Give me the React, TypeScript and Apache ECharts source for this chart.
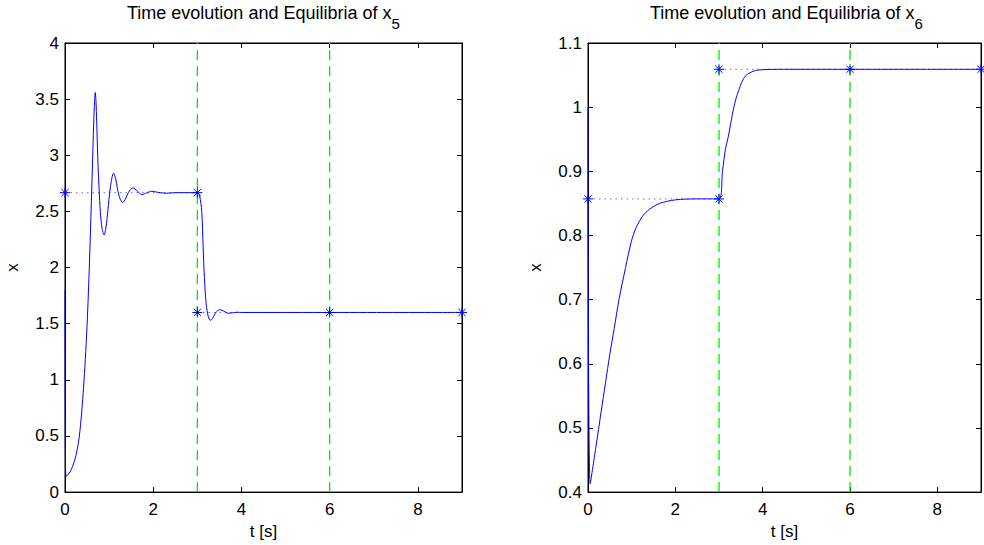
import React, { useEffect, useRef } from "react";
import * as echarts from "echarts";

// ---- data ----
const switchTimes = [3, 6];
const x5Eq = [2.667, 1.6];
const x6Eq = [0.857, 1.059];

const x5Trace: [number, number][] = [
  [0, 1.8], [0.02, 0.14], [0.08, 0.16], [0.14, 0.2], [0.2, 0.26], [0.25, 0.33],
  [0.3, 0.43], [0.34, 0.55], [0.38, 0.72], [0.42, 0.93], [0.46, 1.18], [0.5, 1.48],
  [0.54, 1.88], [0.58, 2.36], [0.62, 2.88], [0.65, 3.28], [0.67, 3.48], [0.685, 3.56],
  [0.70, 3.5], [0.72, 3.28], [0.75, 2.9], [0.8, 2.5], [0.84, 2.35], [0.886, 2.29],
  [0.93, 2.36], [0.97, 2.5], [1.03, 2.72], [1.1, 2.84], [1.15, 2.79], [1.19, 2.7],
  [1.25, 2.61], [1.31, 2.58], [1.37, 2.61], [1.44, 2.67], [1.54, 2.71], [1.64, 2.68],
  [1.74, 2.65], [1.85, 2.665], [1.97, 2.68], [2.1, 2.67], [2.3, 2.662], [2.5, 2.667],
  [3.0, 2.667], [3.05, 2.64], [3.1, 2.5], [3.13, 2.2], [3.16, 1.91], [3.2, 1.68],
  [3.25, 1.56], [3.3, 1.53], [3.35, 1.55], [3.42, 1.6], [3.51, 1.625], [3.6, 1.612],
  [3.7, 1.593], [3.8, 1.597], [3.9, 1.602], [4.0, 1.6], [9, 1.6],
];

const x6Trace: [number, number][] = [
  [0, 1.0], [0.05, 0.413], [0.18, 0.47], [0.3, 0.525], [0.4, 0.57], [0.5, 0.615],
  [0.6, 0.655], [0.71, 0.7], [0.86, 0.75], [0.99, 0.79], [1.1, 0.812], [1.25, 0.83],
  [1.41, 0.841], [1.64, 0.85], [2.0, 0.8555], [2.5, 0.857], [3.0, 0.857], [3.08, 0.9],
  [3.15, 0.936], [3.21, 0.953], [3.34, 1.0], [3.45, 1.026], [3.61, 1.049], [3.91, 1.058],
  [4.5, 1.059], [9, 1.059],
];

const x5Ticks = { min: 0, max: 4, interval: 0.5 };
const x6Ticks = { min: 0.4, max: 1.1, interval: 0.1 };
const tTicks = { min: 0, max: 9, interval: 2 };

const STAR = "path://M0,-5L0,5M-5,0L5,0M-3.6,-3.6L3.6,3.6M-3.6,3.6L3.6,-3.6";
const FONT = "Liberation Sans";

function buildAxes(gridIndex: number, yT: { min: number; max: number; interval: number }) {
  const common = {
    gridIndex,
    type: "value" as const,
    splitLine: { show: false },
    axisLine: { show: true, onZero: false, lineStyle: { color: "#000", width: 1 } },
    axisTick: { show: true, inside: true, length: 5, lineStyle: { color: "#000" } },
  };
  const fmtY = (v: number) => String(Math.round(v * 10) / 10);
  const xs = [
    {
      ...common,
      ...tTicks,
      position: "bottom",
      name: "t [s]",
      nameLocation: "middle",
      nameGap: 28,
      nameTextStyle: { fontFamily: FONT, fontSize: 17, color: "#000" },
      axisLabel: {
        fontFamily: FONT, fontSize: 17, color: "#000", margin: 9,
        formatter: (v: number) => (v === 9 ? "" : String(v)),
      },
    },
    { ...common, ...tTicks, position: "top", axisLabel: { show: false } },
  ];
  const ys = [
    {
      ...common,
      ...yT,
      position: "left",
      name: "x",
      nameLocation: "middle",
      nameGap: 44,
      nameTextStyle: { fontFamily: FONT, fontSize: 17, color: "#000" },
      axisLabel: { fontFamily: FONT, fontSize: 17, color: "#000", margin: 6, formatter: fmtY },
    },
    { ...common, ...yT, position: "right", axisLabel: { show: false } },
  ];
  return { xs, ys };
}

function buildSeries(
  axisIdx: number,
  trace: [number, number][],
  eq: number[],
  yT: { min: number; max: number }
) {
  const base = { type: "line" as const, xAxisIndex: axisIdx, yAxisIndex: axisIdx, silent: true };
  const out: any[] = [];
  switchTimes.forEach((t) => {
    out.push({
      ...base,
      data: [[t, yT.min], [t, yT.max]],
      symbol: "none",
      lineStyle: { color: "#00ee00", width: 1.3, type: [10, 6] },
    });
  });
  out.push({
    ...base,
    data: trace,
    symbol: "none",
    smooth: 0.3,
    lineStyle: { color: "#0000ff", width: 1 },
  });
  const starStyle = {
    symbol: STAR,
    symbolSize: 10,
    showSymbol: true,
    itemStyle: { color: "#0000ff", borderColor: "#0000ff", borderWidth: 1 },
    lineStyle: { color: "#0000ff", width: 1, type: [1.5, 4], opacity: 0.6 },
  };
  out.push({ ...base, ...starStyle, data: [[0, eq[0]], [3, eq[0]]] });
  out.push({ ...base, ...starStyle, data: [[3, eq[1]], [6, eq[1]], [9, eq[1]]] });
  return out;
}

export default function App() {
  const ref = useRef<HTMLDivElement>(null);
  useEffect(() => {
    if (!ref.current) return;
    const chart = echarts.init(ref.current, null, { renderer: "svg" });
    const a = buildAxes(0, x5Ticks);
    const b = buildAxes(1, x6Ticks);
    const titleStyle = {
      fontWeight: "normal",
      rich: {
        m: { fontFamily: FONT, fontSize: 18, fontWeight: "normal", color: "#000", lineHeight: 20, verticalAlign: "top" },
        s: { fontFamily: FONT, fontSize: 15, fontWeight: "normal", color: "#000", lineHeight: 16, padding: [12, 0, 0, 0], verticalAlign: "top" },
      },
    };
    chart.setOption({
      animation: false,
      backgroundColor: "#fff",
      title: [
        { text: "{m|Time evolution and Equilibria of x}{s|5}", left: 127, top: 4, padding: 0, textStyle: titleStyle },
        { text: "{m|Time evolution and Equilibria of x}{s|6}", left: 650, top: 4, padding: 0, textStyle: titleStyle },
      ],
      grid: [
        { left: 65, top: 43, width: 397, height: 453, show: true, borderColor: "#000", borderWidth: 1, containLabel: false },
        { left: 588, top: 43, width: 396, height: 453, show: true, borderColor: "#000", borderWidth: 1, containLabel: false },
      ],
      xAxis: [...a.xs, ...b.xs],
      yAxis: [...a.ys, ...b.ys],
      series: [
        ...buildSeries(0, x5Trace, x5Eq, x5Ticks).map((s) => ({ ...s, xAxisIndex: 0, yAxisIndex: 0 })),
        ...buildSeries(2, x6Trace, x6Eq, x6Ticks).map((s) => ({ ...s, xAxisIndex: 2, yAxisIndex: 2 })),
      ],
    });
    return () => chart.dispose();
  }, []);
  return <div ref={ref} style={{ position: "fixed", left: 0, top: 0, width: 984, height: 545 }} />;
}
